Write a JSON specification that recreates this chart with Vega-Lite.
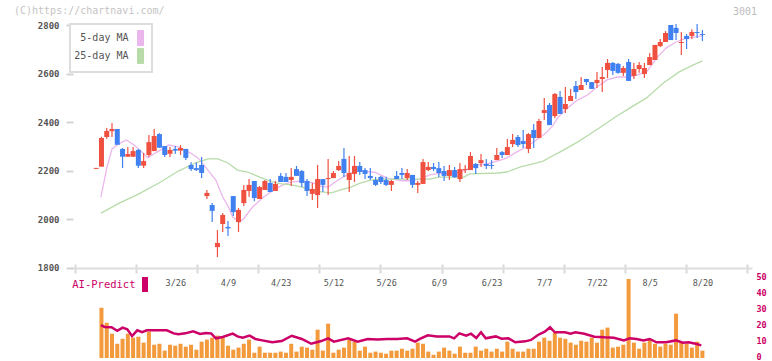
{
  "$schema": "https://vega.github.io/schema/vega-lite/v6.json",
  "width": 682,
  "height": 333,
  "autosize": {"type": "none"},
  "padding": {"left": 70, "top": 25, "right": 20, "bottom": 3},
  "background": "white",
  "title": {"text": "(C)https://chartnavi.com/", "anchor": "start", "frame": "group", "dx": -56, "dy": 13, "offset": 4, "font": "DejaVu Sans Mono", "fontSize": 10, "fontWeight": "normal", "color": "#c4c4c4"},
  "config": {"view": {"stroke": null}, "font": "DejaVu Sans Mono"},
  "datasets": {
    "candles": [
      {"i":0,"o":2208,"h":2212,"l":2208,"c":2212,"d":"up"},
      {"i":1,"o":2217,"h":2340,"l":2217,"c":2335,"d":"up","v":31.4},
      {"i":2,"o":2339,"h":2376,"l":2332,"c":2364,"d":"up","v":22},
      {"i":3,"o":2363,"h":2397,"l":2339,"c":2372,"d":"up","v":15.2},
      {"i":4,"o":2372,"h":2372,"l":2307,"c":2307,"d":"down","v":8.9},
      {"i":5,"o":2290,"h":2294,"l":2211,"c":2258,"d":"down","v":12},
      {"i":6,"o":2258,"h":2298,"l":2258,"c":2269,"d":"up","v":15.2},
      {"i":7,"o":2258,"h":2298,"l":2258,"c":2281,"d":"up","v":12.7},
      {"i":8,"o":2286,"h":2290,"l":2211,"c":2221,"d":"down","v":13.3},
      {"i":9,"o":2221,"h":2273,"l":2211,"c":2240,"d":"up","v":9.6},
      {"i":10,"o":2265,"h":2347,"l":2257,"c":2318,"d":"up","v":16.5},
      {"i":11,"o":2281,"h":2372,"l":2281,"c":2343,"d":"up","v":8.3},
      {"i":12,"o":2351,"h":2355,"l":2295,"c":2295,"d":"down","v":8.9},
      {"i":13,"o":2302,"h":2302,"l":2257,"c":2265,"d":"down","v":4.6},
      {"i":14,"o":2270,"h":2298,"l":2257,"c":2286,"d":"up","v":8.3},
      {"i":15,"o":2290,"h":2302,"l":2269,"c":2283,"d":"down","v":7.7},
      {"i":16,"o":2283,"h":2306,"l":2265,"c":2294,"d":"up","v":8.9},
      {"i":17,"o":2290,"h":2290,"l":2244,"c":2253,"d":"down","v":7.1},
      {"i":18,"o":2224,"h":2235,"l":2199,"c":2207,"d":"down","v":8.3},
      {"i":19,"o":2211,"h":2235,"l":2199,"c":2203,"d":"down","v":5.2},
      {"i":20,"o":2224,"h":2257,"l":2170,"c":2191,"d":"down","v":10.2},
      {"i":21,"o":2096,"h":2121,"l":2084,"c":2109,"d":"up","v":11.5},
      {"i":22,"o":2059,"h":2067,"l":1989,"c":2035,"d":"down","v":12.7},
      {"i":23,"o":1886,"h":1956,"l":1845,"c":1903,"d":"up","v":14},
      {"i":24,"o":1981,"h":2026,"l":1948,"c":2018,"d":"up","v":12.7},
      {"i":25,"o":1969,"h":1993,"l":1932,"c":1963,"d":"down","v":7.7},
      {"i":26,"o":2096,"h":2096,"l":2014,"c":2030,"d":"down","v":5.2},
      {"i":27,"o":1989,"h":2047,"l":1948,"c":2039,"d":"up","v":6.5},
      {"i":28,"o":2067,"h":2142,"l":2055,"c":2121,"d":"up","v":8.9},
      {"i":29,"o":2117,"h":2166,"l":2093,"c":2142,"d":"up","v":11.5},
      {"i":30,"o":2158,"h":2158,"l":2075,"c":2088,"d":"down","v":3.3},
      {"i":31,"o":2084,"h":2137,"l":2084,"c":2133,"d":"up","v":7.1},
      {"i":32,"o":2121,"h":2162,"l":2121,"c":2158,"d":"up","v":3.3},
      {"i":33,"o":2150,"h":2166,"l":2113,"c":2113,"d":"down","v":3.3},
      {"i":34,"o":2117,"h":2158,"l":2117,"c":2146,"d":"up","v":3.3},
      {"i":35,"o":2179,"h":2191,"l":2154,"c":2154,"d":"down","v":4},
      {"i":36,"o":2175,"h":2191,"l":2154,"c":2154,"d":"down","v":3.3},
      {"i":37,"o":2162,"h":2211,"l":2137,"c":2175,"d":"up","v":8.9},
      {"i":38,"o":2207,"h":2220,"l":2179,"c":2179,"d":"down","v":4},
      {"i":39,"o":2199,"h":2203,"l":2133,"c":2150,"d":"down","v":7.1},
      {"i":40,"o":2158,"h":2166,"l":2096,"c":2117,"d":"down","v":6.5},
      {"i":41,"o":2105,"h":2150,"l":2080,"c":2125,"d":"up","v":5.2},
      {"i":42,"o":2100,"h":2224,"l":2047,"c":2166,"d":"up","v":17.7},
      {"i":43,"o":2166,"h":2166,"l":2113,"c":2142,"d":"down","v":4.6},
      {"i":44,"o":2166,"h":2249,"l":2100,"c":2170,"d":"up","v":21.5},
      {"i":45,"o":2170,"h":2199,"l":2170,"c":2191,"d":"up","v":3.3},
      {"i":46,"o":2203,"h":2240,"l":2199,"c":2220,"d":"up","v":5.2},
      {"i":47,"o":2249,"h":2294,"l":2174,"c":2191,"d":"down","v":6.5},
      {"i":48,"o":2162,"h":2261,"l":2113,"c":2191,"d":"up","v":11.5},
      {"i":49,"o":2187,"h":2261,"l":2154,"c":2220,"d":"up","v":10.2},
      {"i":50,"o":2220,"h":2236,"l":2183,"c":2195,"d":"down","v":4.6},
      {"i":51,"o":2203,"h":2211,"l":2166,"c":2187,"d":"down","v":7.1},
      {"i":52,"o":2179,"h":2211,"l":2162,"c":2170,"d":"down","v":3.3},
      {"i":53,"o":2162,"h":2175,"l":2137,"c":2142,"d":"down","v":4},
      {"i":54,"o":2175,"h":2179,"l":2146,"c":2154,"d":"down","v":3.3},
      {"i":55,"o":2162,"h":2175,"l":2137,"c":2142,"d":"down","v":2.7},
      {"i":56,"o":2142,"h":2162,"l":2117,"c":2158,"d":"up","v":4.6},
      {"i":57,"o":2179,"h":2199,"l":2166,"c":2166,"d":"down","v":4.6},
      {"i":58,"o":2191,"h":2211,"l":2166,"c":2183,"d":"down","v":5.8},
      {"i":59,"o":2170,"h":2207,"l":2162,"c":2191,"d":"up","v":4.6},
      {"i":60,"o":2183,"h":2183,"l":2129,"c":2142,"d":"down","v":5.8},
      {"i":61,"o":2142,"h":2158,"l":2109,"c":2150,"d":"up","v":9.6},
      {"i":62,"o":2146,"h":2249,"l":2146,"c":2236,"d":"up","v":8.9},
      {"i":63,"o":2203,"h":2236,"l":2199,"c":2216,"d":"up","v":4},
      {"i":64,"o":2216,"h":2232,"l":2199,"c":2207,"d":"down","v":2},
      {"i":65,"o":2211,"h":2236,"l":2174,"c":2191,"d":"down","v":4},
      {"i":66,"o":2199,"h":2220,"l":2158,"c":2179,"d":"down","v":6.5},
      {"i":67,"o":2179,"h":2224,"l":2162,"c":2203,"d":"up","v":4.6},
      {"i":68,"o":2203,"h":2216,"l":2170,"c":2174,"d":"down","v":2.7},
      {"i":69,"o":2166,"h":2232,"l":2154,"c":2207,"d":"up","v":7.1},
      {"i":70,"o":2203,"h":2224,"l":2191,"c":2207,"d":"up","v":3.3},
      {"i":71,"o":2203,"h":2277,"l":2203,"c":2261,"d":"up","v":3.3},
      {"i":72,"o":2228,"h":2232,"l":2187,"c":2211,"d":"down","v":7.1},
      {"i":73,"o":2232,"h":2269,"l":2216,"c":2244,"d":"up","v":4.6},
      {"i":74,"o":2228,"h":2249,"l":2207,"c":2220,"d":"down","v":5.8},
      {"i":75,"o":2224,"h":2244,"l":2207,"c":2220,"d":"down","v":4},
      {"i":76,"o":2244,"h":2294,"l":2244,"c":2265,"d":"up","v":5.8},
      {"i":77,"o":2277,"h":2281,"l":2253,"c":2265,"d":"down","v":4},
      {"i":78,"o":2265,"h":2331,"l":2265,"c":2298,"d":"up","v":10.2},
      {"i":79,"o":2310,"h":2351,"l":2298,"c":2327,"d":"up","v":5.8},
      {"i":80,"o":2339,"h":2347,"l":2298,"c":2306,"d":"down","v":4},
      {"i":81,"o":2323,"h":2368,"l":2294,"c":2310,"d":"down","v":4},
      {"i":82,"o":2290,"h":2355,"l":2273,"c":2351,"d":"up","v":5.8},
      {"i":83,"o":2368,"h":2393,"l":2294,"c":2335,"d":"down","v":5.8},
      {"i":84,"o":2335,"h":2414,"l":2335,"c":2405,"d":"up","v":10.2},
      {"i":85,"o":2438,"h":2500,"l":2409,"c":2450,"d":"up","v":12.7},
      {"i":86,"o":2471,"h":2479,"l":2388,"c":2388,"d":"down","v":10.8},
      {"i":87,"o":2425,"h":2520,"l":2417,"c":2516,"d":"up","v":15.8},
      {"i":88,"o":2504,"h":2528,"l":2434,"c":2434,"d":"down","v":12.7},
      {"i":89,"o":2454,"h":2545,"l":2438,"c":2475,"d":"up","v":12},
      {"i":90,"o":2487,"h":2537,"l":2487,"c":2508,"d":"up","v":9.6},
      {"i":91,"o":2549,"h":2570,"l":2495,"c":2524,"d":"down","v":8.3},
      {"i":92,"o":2532,"h":2586,"l":2532,"c":2553,"d":"up","v":10.8},
      {"i":93,"o":2578,"h":2578,"l":2553,"c":2565,"d":"down","v":10.2},
      {"i":94,"o":2565,"h":2565,"l":2537,"c":2537,"d":"down","v":12.7},
      {"i":95,"o":2561,"h":2607,"l":2541,"c":2574,"d":"up","v":9.6},
      {"i":96,"o":2578,"h":2627,"l":2524,"c":2586,"d":"up","v":17.7},
      {"i":97,"o":2615,"h":2660,"l":2582,"c":2644,"d":"up","v":19},
      {"i":98,"o":2644,"h":2648,"l":2594,"c":2611,"d":"down","v":6.5},
      {"i":99,"o":2640,"h":2644,"l":2599,"c":2603,"d":"down","v":7.1},
      {"i":100,"o":2603,"h":2631,"l":2590,"c":2623,"d":"up","v":8.3},
      {"i":101,"o":2648,"h":2660,"l":2570,"c":2570,"d":"down","v":49.4},
      {"i":102,"o":2590,"h":2644,"l":2578,"c":2619,"d":"up","v":9.6},
      {"i":103,"o":2619,"h":2648,"l":2603,"c":2635,"d":"up","v":5.8},
      {"i":104,"o":2598,"h":2644,"l":2582,"c":2623,"d":"up","v":9.6},
      {"i":105,"o":2635,"h":2685,"l":2635,"c":2668,"d":"up","v":11.5},
      {"i":106,"o":2656,"h":2718,"l":2656,"c":2718,"d":"up","v":8.9},
      {"i":107,"o":2713,"h":2742,"l":2709,"c":2730,"d":"up","v":7.1},
      {"i":108,"o":2730,"h":2775,"l":2730,"c":2767,"d":"up","v":8.9},
      {"i":109,"o":2800,"h":2800,"l":2738,"c":2738,"d":"down","v":8.3},
      {"i":110,"o":2788,"h":2804,"l":2738,"c":2767,"d":"down","v":27.7},
      {"i":111,"o":2726,"h":2771,"l":2677,"c":2730,"d":"up","v":10.2},
      {"i":112,"o":2755,"h":2763,"l":2701,"c":2742,"d":"down","v":8.9},
      {"i":113,"o":2755,"h":2783,"l":2742,"c":2771,"d":"up","v":6.5},
      {"i":114,"o":2771,"h":2804,"l":2746,"c":2767,"d":"down","v":10.2},
      {"i":115,"o":2763,"h":2779,"l":2734,"c":2759,"d":"down","v":4.6}
    ],
    "ma": [
      {"i":0.9,"v":2092,"s":"5-day MA"},{"i":2,"v":2211,"s":"5-day MA"},{"i":3,"v":2290,"s":"5-day MA"},{"i":4.2,"v":2310,"s":"5-day MA"},{"i":5.7,"v":2327,"s":"5-day MA"},{"i":7.2,"v":2306,"s":"5-day MA"},{"i":8.5,"v":2281,"s":"5-day MA"},{"i":9.8,"v":2253,"s":"5-day MA"},{"i":10.9,"v":2269,"s":"5-day MA"},{"i":12.2,"v":2285,"s":"5-day MA"},{"i":13.7,"v":2306,"s":"5-day MA"},{"i":15.6,"v":2298,"s":"5-day MA"},{"i":17.9,"v":2273,"s":"5-day MA"},{"i":19.3,"v":2253,"s":"5-day MA"},{"i":20.8,"v":2213,"s":"5-day MA"},{"i":22.7,"v":2162,"s":"5-day MA"},{"i":24,"v":2092,"s":"5-day MA"},{"i":25,"v":2055,"s":"5-day MA"},{"i":25.9,"v":2010,"s":"5-day MA"},{"i":27.2,"v":1989,"s":"5-day MA"},{"i":28.1,"v":2006,"s":"5-day MA"},{"i":29.6,"v":2049,"s":"5-day MA"},{"i":31.5,"v":2088,"s":"5-day MA"},{"i":33.4,"v":2117,"s":"5-day MA"},{"i":35.4,"v":2142,"s":"5-day MA"},{"i":37.1,"v":2154,"s":"5-day MA"},{"i":39,"v":2158,"s":"5-day MA"},{"i":41.2,"v":2150,"s":"5-day MA"},{"i":42.7,"v":2136,"s":"5-day MA"},{"i":44,"v":2133,"s":"5-day MA"},{"i":45.9,"v":2162,"s":"5-day MA"},{"i":48.3,"v":2191,"s":"5-day MA"},{"i":50.2,"v":2200,"s":"5-day MA"},{"i":53,"v":2193,"s":"5-day MA"},{"i":55.2,"v":2170,"s":"5-day MA"},{"i":57.7,"v":2160,"s":"5-day MA"},{"i":59.5,"v":2158,"s":"5-day MA"},{"i":61.4,"v":2166,"s":"5-day MA"},{"i":63.3,"v":2183,"s":"5-day MA"},{"i":65.1,"v":2189,"s":"5-day MA"},{"i":67,"v":2188,"s":"5-day MA"},{"i":68.9,"v":2193,"s":"5-day MA"},{"i":70.4,"v":2207,"s":"5-day MA"},{"i":72.2,"v":2224,"s":"5-day MA"},{"i":74.1,"v":2228,"s":"5-day MA"},{"i":76.7,"v":2244,"s":"5-day MA"},{"i":77.9,"v":2253,"s":"5-day MA"},{"i":79.7,"v":2277,"s":"5-day MA"},{"i":81.6,"v":2298,"s":"5-day MA"},{"i":83.5,"v":2327,"s":"5-day MA"},{"i":85.3,"v":2355,"s":"5-day MA"},{"i":86.6,"v":2385,"s":"5-day MA"},{"i":87.6,"v":2420,"s":"5-day MA"},{"i":89.4,"v":2458,"s":"5-day MA"},{"i":91.3,"v":2491,"s":"5-day MA"},{"i":93.2,"v":2512,"s":"5-day MA"},{"i":95,"v":2545,"s":"5-day MA"},{"i":96.9,"v":2574,"s":"5-day MA"},{"i":98.8,"v":2586,"s":"5-day MA"},{"i":100.7,"v":2586,"s":"5-day MA"},{"i":102.5,"v":2594,"s":"5-day MA"},{"i":104.4,"v":2607,"s":"5-day MA"},{"i":106.3,"v":2664,"s":"5-day MA"},{"i":108.1,"v":2705,"s":"5-day MA"},{"i":110,"v":2730,"s":"5-day MA"},{"i":111.9,"v":2746,"s":"5-day MA"},{"i":113.7,"v":2751,"s":"5-day MA"},{"i":115,"v":2755,"s":"5-day MA"},
      {"i":0.9,"v":2026,"s":"25-day MA"},{"i":4.4,"v":2067,"s":"25-day MA"},{"i":8.1,"v":2105,"s":"25-day MA"},{"i":11.9,"v":2150,"s":"25-day MA"},{"i":15.6,"v":2199,"s":"25-day MA"},{"i":18.8,"v":2232,"s":"25-day MA"},{"i":21.2,"v":2249,"s":"25-day MA"},{"i":23.1,"v":2249,"s":"25-day MA"},{"i":25,"v":2232,"s":"25-day MA"},{"i":26.8,"v":2203,"s":"25-day MA"},{"i":28.7,"v":2195,"s":"25-day MA"},{"i":29.6,"v":2187,"s":"25-day MA"},{"i":31.5,"v":2170,"s":"25-day MA"},{"i":33.4,"v":2154,"s":"25-day MA"},{"i":35.2,"v":2146,"s":"25-day MA"},{"i":37.1,"v":2142,"s":"25-day MA"},{"i":39,"v":2133,"s":"25-day MA"},{"i":40.8,"v":2121,"s":"25-day MA"},{"i":42.7,"v":2113,"s":"25-day MA"},{"i":44.6,"v":2109,"s":"25-day MA"},{"i":46.4,"v":2121,"s":"25-day MA"},{"i":48.3,"v":2133,"s":"25-day MA"},{"i":50.2,"v":2150,"s":"25-day MA"},{"i":52.1,"v":2162,"s":"25-day MA"},{"i":53.9,"v":2166,"s":"25-day MA"},{"i":57.7,"v":2166,"s":"25-day MA"},{"i":63.3,"v":2166,"s":"25-day MA"},{"i":65.1,"v":2174,"s":"25-day MA"},{"i":69.8,"v":2174,"s":"25-day MA"},{"i":70.8,"v":2187,"s":"25-day MA"},{"i":76.3,"v":2191,"s":"25-day MA"},{"i":77.9,"v":2195,"s":"25-day MA"},{"i":80.5,"v":2216,"s":"25-day MA"},{"i":82.9,"v":2228,"s":"25-day MA"},{"i":84.8,"v":2240,"s":"25-day MA"},{"i":86.6,"v":2262,"s":"25-day MA"},{"i":87.6,"v":2273,"s":"25-day MA"},{"i":91.3,"v":2318,"s":"25-day MA"},{"i":95,"v":2370,"s":"25-day MA"},{"i":98.2,"v":2417,"s":"25-day MA"},{"i":101.2,"v":2458,"s":"25-day MA"},{"i":104.4,"v":2500,"s":"25-day MA"},{"i":107.6,"v":2561,"s":"25-day MA"},{"i":110.6,"v":2607,"s":"25-day MA"},{"i":113.2,"v":2635,"s":"25-day MA"},{"i":115,"v":2652,"s":"25-day MA"}
    ],
    "pred": [
      {"i":0.9,"p":20.6},{"i":1.6,"p":19.4},{"i":2.9,"p":19.2},{"i":4,"p":17},{"i":5,"p":19},{"i":5.9,"p":18},{"i":6.8,"p":13.7},{"i":7.8,"p":17.3},{"i":8.7,"p":16.1},{"i":9.6,"p":17.3},{"i":11.5,"p":17.3},{"i":13.4,"p":17.3},{"i":14.7,"p":15.4},{"i":15.6,"p":14.8},{"i":16.9,"p":15.4},{"i":18.4,"p":16.7},{"i":19.7,"p":15},{"i":20.8,"p":15.6},{"i":21.8,"p":15.4},{"i":22.7,"p":12.3},{"i":24,"p":13.1},{"i":25.9,"p":15.2},{"i":26.8,"p":13.5},{"i":27.8,"p":12.7},{"i":29.1,"p":14},{"i":30.2,"p":11.9},{"i":31.5,"p":11},{"i":33.4,"p":9.8},{"i":35.2,"p":10.6},{"i":37.1,"p":13.9},{"i":39,"p":11.9},{"i":40.8,"p":8.9},{"i":42.7,"p":10.6},{"i":44,"p":12.3},{"i":45.1,"p":10.2},{"i":47.8,"p":12.3},{"i":49.6,"p":10.2},{"i":51.5,"p":11.9},{"i":53.4,"p":11.5},{"i":55.2,"p":11.9},{"i":57.1,"p":11.9},{"i":59,"p":12.3},{"i":60.5,"p":10.2},{"i":61.4,"p":11.9},{"i":62.9,"p":14.2},{"i":64.6,"p":13.5},{"i":67,"p":13.5},{"i":67.9,"p":12.3},{"i":68.9,"p":15.4},{"i":70.2,"p":14},{"i":71.1,"p":15.2},{"i":72.1,"p":12.5},{"i":73,"p":16.1},{"i":73.9,"p":12.3},{"i":75.8,"p":13.5},{"i":76.9,"p":12.1},{"i":78.2,"p":12.3},{"i":79.5,"p":9.8},{"i":81.4,"p":10.4},{"i":82.5,"p":11.3},{"i":83.8,"p":14.4},{"i":85.1,"p":16.5},{"i":86.1,"p":19.2},{"i":87,"p":16.1},{"i":88.9,"p":16.1},{"i":90,"p":15.2},{"i":90.9,"p":16.1},{"i":92.6,"p":15.2},{"i":94.5,"p":13.3},{"i":96.4,"p":12.9},{"i":98.2,"p":12.7},{"i":100.1,"p":11},{"i":101.2,"p":12.3},{"i":102.5,"p":11.9},{"i":103.8,"p":11},{"i":105,"p":11.9},{"i":106.3,"p":9.8},{"i":108.1,"p":9.8},{"i":110,"p":11},{"i":111.3,"p":9.6},{"i":112.4,"p":9.8},{"i":113.7,"p":8.9},{"i":114.8,"p":7.9}
    ],
    "one": [{"k": 1}]
  },
  "layer": [
    {
      "data": {"name": "candles"},
      "encoding": {
        "x": {"field": "i", "type": "quantitative", "scale": {"domain": [-4.02, 123.46], "nice": false, "zero": false},
          "axis": {"orient": "bottom", "offset": -94, "values": [-4.02, 7.57, 19.16, 30.75, 42.34, 53.93, 65.51, 77.1, 88.69, 100.28, 111.87, 123.46], "labels": false, "domain": false, "tickSize": 9, "tickColor": "#d8d8d8", "tickWidth": 2, "title": null, "grid": false}}
      },
      "layer": [
        {
          "data": {"name": "ma"},
          "mark": {"type": "line", "strokeWidth": 1.3},
          "encoding": {
            "y": {"field": "v", "type": "quantitative", "scale": {"domain": [1429.6, 2800], "nice": false, "zero": false}},
            "color": {"field": "s", "type": "nominal", "scale": {"domain": ["5-day MA", "25-day MA"], "range": ["#ebb6ec", "#b7dcaa"]},
              "legend": {"orient": "none", "legendX": 0, "legendY": -1, "title": null, "padding": 6, "strokeColor": "#dddddd", "fillColor": "white",
                "symbolType": "M-0.4,-1H0.4V1H-0.4Z", "symbolSize": 225, "symbolStrokeWidth": 1, "symbolStrokeColor": "#777777",
                "labelAlign": "right", "labelOffset": -20, "symbolOffset": 56.5, "labelFont": "DejaVu Sans Mono", "labelFontSize": 10, "labelColor": "#555555", "rowPadding": -2.5,
                "encode": {
                  "symbols": {"update": {"fill": {"signal": "datum.value === '5-day MA' ? '#ebb6ec' : '#b7dcaa'"}, "stroke": {"value": "#777777"}, "strokeWidth": {"value": 1}, "opacity": {"value": 1}}},
                  "legend": {"update": {"strokeWidth": {"value": 2}}}
                }}}
          }
        },
        {
          "mark": {"type": "rule", "strokeWidth": 1.2},
          "encoding": {
            "y": {"field": "l", "type": "quantitative", "scale": {"domain": [1429.6, 2800], "nice": false, "zero": false},
              "axis": {"orient": "left", "offset": -3, "values": [1800, 2000, 2200, 2400, 2600, 2800], "format": "d", "domain": false, "tickSize": 7, "tickColor": "#d4d4d4", "tickWidth": 2, "labelPadding": 7, "labelFont": "DejaVu Sans Mono", "labelFontSize": 9, "labelFontWeight": "bold", "labelColor": "#555555", "title": null, "grid": false}},
            "y2": {"field": "h"},
            "stroke": {"field": "d", "type": "nominal", "scale": {"domain": ["up", "down"], "range": ["#f05040", "#4080f0"]}, "legend": null}
          }
        },
        {
          "mark": {"type": "bar", "size": 5},
          "encoding": {
            "y": {"field": "o", "type": "quantitative", "scale": {"domain": [1429.6, 2800], "nice": false, "zero": false}},
            "y2": {"field": "c"},
            "fill": {"field": "d", "type": "nominal", "scale": {"domain": ["up", "down"], "range": ["#f05040", "#4080f0"]}, "legend": null}
          }
        },
        {
          "data": {"name": "one"},
          "mark": {"type": "rule", "color": "#dddddd", "strokeWidth": 2},
          "encoding": {
            "x": {"datum": -4.02, "type": "quantitative", "scale": {"domain": [-4.02, 123.46], "nice": false, "zero": false}},
            "y": {"datum": 1800, "type": "quantitative", "scale": {"domain": [1429.6, 2800], "nice": false, "zero": false}},
            "y2": {"datum": 2800}
          }
        },
        {
          "transform": [{"filter": "datum.i == 115"}],
          "mark": {"type": "text", "align": "right", "baseline": "middle", "dx": 10, "dy": -13, "font": "DejaVu Sans Mono", "fontSize": 10, "color": "#bcbcbc"},
          "encoding": {
            "x": {"datum": 123.46, "type": "quantitative", "scale": {"domain": [-4.02, 123.46], "nice": false, "zero": false}},
            "y": {"datum": 2800, "type": "quantitative", "scale": {"domain": [1429.6, 2800], "nice": false, "zero": false}},
            "text": {"value": "3001"}
          }
        }
      ]
    },
    {
      "data": {"name": "candles"},
      "encoding": {
        "x": {"field": "i", "type": "quantitative", "scale": {"domain": [-4.02, 123.46], "nice": false, "zero": false},
          "axis": {"orient": "bottom", "offset": -90, "values": [15, 25, 35, 45, 55, 65, 75, 85, 95, 105, 115],
            "labelExpr": "['3/26','4/9','4/23','5/12','5/26','6/9','6/23','7/7','7/22','8/5','8/20'][round((datum.value-15)/10)]",
            "domain": true, "domainColor": "#dddddd", "domainWidth": 2, "ticks": false, "labelPadding": 10, "labelFont": "DejaVu Sans Mono", "labelFontSize": 8.5, "labelColor": "#555555", "labelFlush": false, "labelOverlap": false, "title": null, "grid": false}}
      },
      "layer": [
        {
          "mark": {"type": "bar", "size": 4, "color": "#f39a3d"},
          "encoding": {
            "y": {"field": "v", "type": "quantitative", "scale": {"domain": [0, 208.125], "nice": false, "zero": true},
              "axis": {"orient": "right", "values": [0, 10, 20, 30, 40, 50], "domain": false, "ticks": false, "labelPadding": 4, "labelOffset": -1.5, "labelFont": "DejaVu Sans Mono", "labelFontSize": 8.5, "labelFontWeight": "bold", "labelColor": "#cc0066", "title": null, "grid": false}}
          }
        },
        {
          "data": {"name": "pred"},
          "mark": {"type": "line", "strokeWidth": 2.5},
          "encoding": {
            "y": {"field": "p", "type": "quantitative", "scale": {"domain": [0, 208.125], "nice": false, "zero": true}},
            "color": {"datum": "AI-Predict", "scale": {"range": ["#cc0066"]},
              "legend": {"orient": "none", "legendX": 3, "legendY": 252, "title": null, "padding": 0,
                "symbolType": "M-0.4,-1H0.4V1H-0.4Z", "symbolSize": 225, "labelAlign": "right", "labelOffset": -17, "symbolOffset": 64.5,
                "labelFont": "DejaVu Sans Mono", "labelFontSize": 10.5, "labelColor": "#cc0066",
                "encode": {"symbols": {"update": {"fill": {"value": "#cc0066"}, "stroke": {"value": "#cc0066"}, "strokeWidth": {"value": 0}, "opacity": {"value": 1}}}}}}
          }
        }
      ]
    }
  ],
  "resolve": {"scale": {"y": "independent", "color": "independent"}, "axis": {"x": "independent", "y": "independent"}, "legend": {"color": "independent"}}
}
